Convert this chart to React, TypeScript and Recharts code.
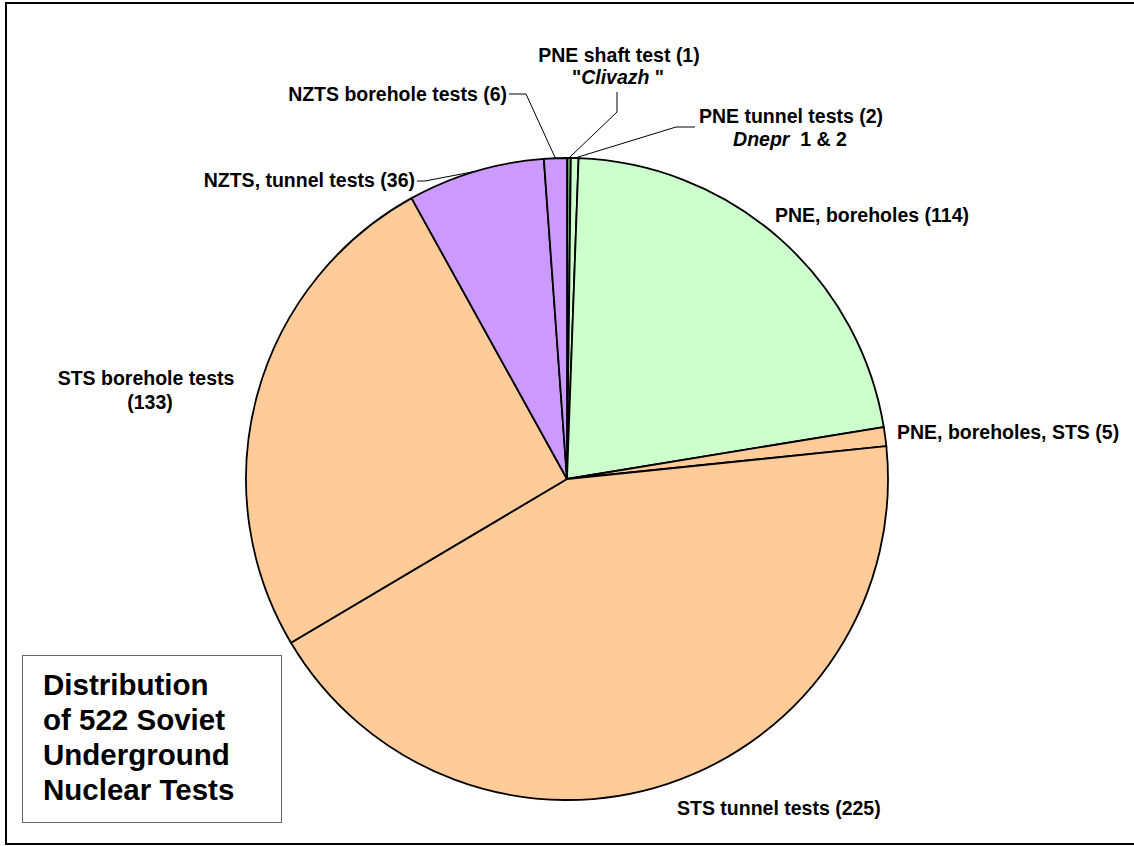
import { PieChart, Pie, Cell } from 'recharts'

const NAMES = [
  'PNE shaft test',
  'PNE tunnel tests',
  'PNE, boreholes',
  'PNE, boreholes, STS',
  'STS tunnel tests',
  'STS borehole tests',
  'NZTS, tunnel tests',
  'NZTS borehole tests',
]
const COUNTS = [1, 2, 114, 5, 225, 133, 36, 6]
const COLORS = ['#5f9f5f', '#ccffcc', '#ccffcc', '#ffcc99', '#ffcc99', '#ffcc99', '#cc99ff', '#cc99ff']
const TITLE_LINES = ['Distribution', 'of 522 Soviet', 'Underground', 'Nuclear Tests']

const FONT = '"Liberation Sans", Arial, Helvetica, sans-serif'
const RAD = Math.PI / 180

type Part = { t: string; italic?: boolean }
type Line = { x: number; y: number; anchor: 'start' | 'middle' | 'end'; parts: Part[] }
type Layout = { lines: Line[]; leader: [number, number][] }

// label placement, one per slice (leader points run from text to the slice edge)
function layoutFor(i: number): Layout {
  const main = `${NAMES[i]} (${COUNTS[i]})`
  switch (i) {
    case 0:
      return {
        lines: [
          { x: 619, y: 62, anchor: 'middle', parts: [{ t: main }] },
          { x: 618, y: 84, anchor: 'middle', parts: [{ t: '"' }, { t: 'Clivazh', italic: true }, { t: '\u00a0"' }] },
        ],
        leader: [[617, 92], [617, 112]],
      }
    case 1:
      return {
        lines: [
          { x: 791, y: 123, anchor: 'middle', parts: [{ t: main }] },
          { x: 790, y: 146, anchor: 'middle', parts: [{ t: 'Dnepr', italic: true }, { t: '\u00a0\u00a01 & 2' }] },
        ],
        leader: [[695, 127], [676, 127]],
      }
    case 2:
      return { lines: [{ x: 775, y: 222, anchor: 'start', parts: [{ t: main }] }], leader: [] }
    case 3:
      return { lines: [{ x: 897, y: 439, anchor: 'start', parts: [{ t: main }] }], leader: [] }
    case 4:
      return { lines: [{ x: 677, y: 815, anchor: 'start', parts: [{ t: main }] }], leader: [] }
    case 5:
      return {
        lines: [
          { x: 146, y: 385, anchor: 'middle', parts: [{ t: NAMES[i] }] },
          { x: 150, y: 409, anchor: 'middle', parts: [{ t: `(${COUNTS[i]})` }] },
        ],
        leader: [],
      }
    case 6:
      return { lines: [{ x: 415, y: 187, anchor: 'end', parts: [{ t: main }] }], leader: [[417, 181], [425, 181]] }
    default:
      return { lines: [{ x: 507, y: 101, anchor: 'end', parts: [{ t: main }] }], leader: [[509, 94], [526, 94]] }
  }
}

function SliceLabel(props: any) {
  const { cx, cy, midAngle, outerRadius, index } = props
  const lay = layoutFor(index)
  const ex = cx + outerRadius * Math.cos(-midAngle * RAD)
  const ey = cy + outerRadius * Math.sin(-midAngle * RAD)
  const pts = lay.leader.length ? [...lay.leader, [ex, ey]] : []
  return (
    <g>
      {pts.length > 0 && (
        <polyline points={pts.map(p => p.join(',')).join(' ')} fill="none" stroke="#000" strokeWidth={1} />
      )}
      {lay.lines.map((ln, k) => (
        <text key={k} x={ln.x} y={ln.y} textAnchor={ln.anchor} fontFamily={FONT} fontWeight="bold" fontSize={19.5} fill="#000">
          {ln.parts.map((p, j) => (
            <tspan key={j} fontStyle={p.italic ? 'italic' : 'normal'}>{p.t}</tspan>
          ))}
        </text>
      ))}
    </g>
  )
}

export default function App() {
  const data = NAMES.map((name, i) => ({ name, value: COUNTS[i] }))

  return (
    <div style={{ position: 'absolute', left: 0, top: 0, width: 1134, height: 846, overflow: 'hidden', background: '#fff' }}>
      <div style={{ position: 'absolute', left: 5, top: 2, width: 1160, height: 843, border: '2px solid #000', boxSizing: 'border-box' }} />
      <PieChart width={1134} height={846} margin={{ top: 0, right: 0, bottom: 0, left: 0 }} style={{ position: 'absolute', left: 0, top: 0 }}>
        <Pie
          data={data}
          dataKey="value"
          cx={567}
          cy={479}
          outerRadius={321}
          startAngle={90}
          endAngle={-270}
          stroke="#000"
          strokeWidth={1.8}
          label={SliceLabel}
          labelLine={false}
          isAnimationActive={false}
        >
          {data.map((_, i) => (
            <Cell key={i} fill={COLORS[i]} />
          ))}
        </Pie>
      </PieChart>
      <div
        style={{
          position: 'absolute', left: 22, top: 655, width: 260, height: 168, boxSizing: 'border-box',
          border: '1px solid #666', background: '#fff', padding: '11px 0 0 20px',
          fontFamily: FONT, fontWeight: 'bold', fontSize: 29.5, lineHeight: '35px', color: '#000',
        }}
      >
        {TITLE_LINES.map((t, i) => <div key={i}>{t}</div>)}
      </div>
    </div>
  )
}
